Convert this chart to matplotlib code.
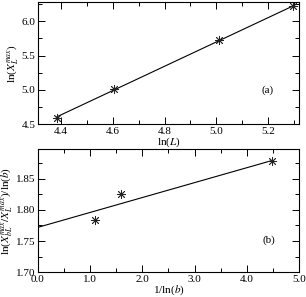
import numpy as np
import matplotlib
matplotlib.use('Agg')
import matplotlib.pyplot as plt
from matplotlib.ticker import MultipleLocator, FormatStrFormatter

plt.rcParams['font.family'] = ['Liberation Serif', 'DejaVu Serif']
plt.rcParams['mathtext.fontset'] = 'stix'
plt.rcParams['font.size'] = 8

# panel (a): ln(L) vs ln(X_L^max)
ln_L = [4.382, 4.605, 5.011, 5.298]
ln_X = [4.59, 5.01, 5.73, 6.22]
fit_a = (1.769, -3.147)  # slope, intercept

# panel (b): 1/ln(b) vs ratio
inv_ln_b = [1.10, 1.60, 4.48]
ratio = [1.784, 1.826, 1.879]
fit_b = (0.0240, 1.772)

fig = plt.figure(figsize=(3.06, 2.97), dpi=100)
ax1 = fig.add_axes([0.124, 0.582, 0.853, 0.411])
ax2 = fig.add_axes([0.124, 0.084, 0.853, 0.414])

star = (8, 2, 0)

# top
xa = np.array([ln_L[0], ln_L[-1]])
ax1.plot(xa, fit_a[0] * xa + fit_a[1], color='black', lw=0.8)
ax1.plot(ln_L, ln_X, ls='none', marker=star, ms=6.5, mec='#222222', mew=0.6)
ax1.set_xlim(4.31, 5.32)
ax1.set_ylim(4.5, 6.28)
ax1.xaxis.set_major_locator(MultipleLocator(0.2))
ax1.xaxis.set_minor_locator(MultipleLocator(0.1))
ax1.yaxis.set_major_locator(MultipleLocator(0.5))
ax1.yaxis.set_minor_locator(MultipleLocator(0.25))
ax1.xaxis.set_major_formatter(FormatStrFormatter('%.1f'))
ax1.yaxis.set_major_formatter(FormatStrFormatter('%.1f'))
ax1.set_xlabel(r'ln($L$)', labelpad=0)
ax1.set_ylabel(r'ln($X_L^{max}$)', labelpad=1)
ax1.text(5.2, 5.0, '(a)', ha='center', va='center')

# bottom
xb = np.array([0.0, inv_ln_b[-1]])
ax2.plot(xb, fit_b[0] * xb + fit_b[1], color='black', lw=0.8)
ax2.plot(inv_ln_b, ratio, ls='none', marker=star, ms=6.5, mec='#222222', mew=0.6)
ax2.set_xlim(0, 5)
ax2.set_ylim(1.70, 1.898)
ax2.xaxis.set_major_locator(MultipleLocator(1.0))
ax2.xaxis.set_minor_locator(MultipleLocator(0.5))
ax2.yaxis.set_major_locator(MultipleLocator(0.05))
ax2.yaxis.set_minor_locator(MultipleLocator(0.025))
ax2.xaxis.set_major_formatter(FormatStrFormatter('%.1f'))
ax2.yaxis.set_major_formatter(FormatStrFormatter('%.2f'))
ax2.set_xlabel(r'1/ln($b$)', labelpad=0)
ax2.set_ylabel(r'ln($X_{bL}^{max}/X_L^{max}$)/ln($b$)', labelpad=1)
ax2.text(4.42, 1.752, '(b)', ha='center', va='center')

for ax in (ax1, ax2):
    ax.tick_params(which='both', direction='in', top=True, right=True, pad=2)
    ax.tick_params(which='major', length=5, width=0.7)
    ax.tick_params(which='minor', length=3, width=0.7)
    for s in ax.spines.values():
        s.set_linewidth(0.8)

fig.savefig('out.png', dpi=100)
